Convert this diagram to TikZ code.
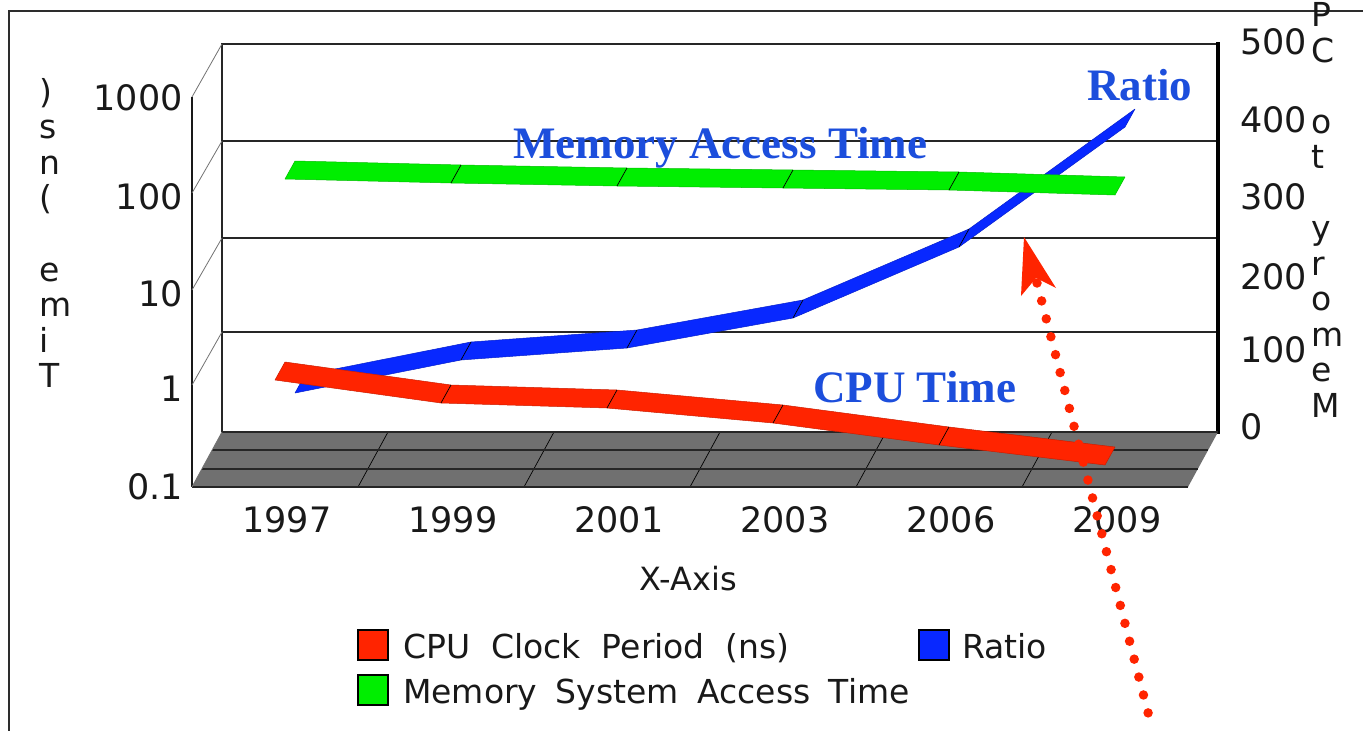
\documentclass[tikz,border=0pt]{standalone}
\usepackage{fontspec}
\setmainfont{DejaVu Sans}
\newfontfamily\tagfont{Liberation Serif}
\usetikzlibrary{calc}

\definecolor{cpured}{RGB}{255,36,0}
\definecolor{ratioblue}{RGB}{8,40,255}
\definecolor{memgreen}{RGB}{0,238,0}
\definecolor{floorgray}{RGB}{112,112,112}
\definecolor{tagblue}{RGB}{28,78,220}
\definecolor{framegray}{RGB}{45,45,45}

% One 3D series band: colour, x of the first front point, six front y values.
% The band is one third of the chart depth deep: offset (10,-18).
\newcommand\seriesband[8]{%
  \fill[#1, draw=#1!80!black, line width=0.5pt, line join=round]
    (#2,#3) -- (#2+166,#4) -- (#2+332,#5) -- (#2+498,#6) -- (#2+664,#7) -- (#2+830,#8)
    -- (#2+840,#8-18) -- (#2+674,#7-18) -- (#2+508,#6-18) -- (#2+342,#5-18)
    -- (#2+176,#4-18) -- (#2+10,#3-18) -- cycle;
  \draw[bandsep] (#2+166,#4) -- ++(10,-18);
  \draw[bandsep] (#2+332,#5) -- ++(10,-18);
  \draw[bandsep] (#2+498,#6) -- ++(10,-18);
  \draw[bandsep] (#2+664,#7) -- ++(10,-18);
}

\begin{document}
\begin{tikzpicture}[x=1pt,y=-1pt,
  tick/.style={inner sep=0pt, text=black!90, font=\fontsize{35}{40}\selectfont},
  axisletter/.style={inner sep=0pt, anchor=base west, text=black!90, font=\fontsize{33}{36}\selectfont},
  legendtext/.style={inner sep=0pt, anchor=base west, text=black!90, font=\fontsize{33}{36}\selectfont},
  tag/.style={inner sep=0pt, anchor=base west, text=tagblue, font=\tagfont\bfseries\fontsize{45}{50}\selectfont},
  gridline/.style={draw=black!85, line width=2pt},
  depthline/.style={draw=black!55, line width=0.8pt},
  bandsep/.style={draw=black, line width=0.7pt},
  legendkey/.style={draw=black, line width=1.8pt, minimum size=30pt, inner sep=0pt},
]

\useasboundingbox (0,0) rectangle (1363,731);
\clip (0,0) rectangle (1363,731);
\fill[white] (0,0) rectangle (1363,731);

% outer frame
\draw[framegray, line width=2pt] (9,731) -- (9,11) -- (1363,11);

% back wall with gridlines
\draw[gridline] (222,432) -- (222,44) -- (1218,44);
\foreach \y in {141,238,332} \draw[gridline] (222,\y) -- (1218,\y);
\draw[black, line width=3.2pt] (1218,42) -- (1218,434);

% left wall
\draw[black!90, line width=2pt] (192,97) -- (192,487);
\foreach \f/\b in {97/44,193/141,290/238,385/332} \draw[depthline] (192,\f) -- (222,\b);

% floor
\fill[floorgray] (192,487) -- (1188,487) -- (1218,432) -- (222,432) -- cycle;
\foreach \k in {1,...,5} \draw[bandsep] (192+166*\k,487) -- (222+166*\k,432);
\draw[gridline] (222,432) -- (1218,432);
\draw[gridline] (212,450.3) -- (1208,450.3);
\draw[gridline] (202,468.7) -- (1198,468.7);
\draw[gridline] (192,487) -- (1188,487);
\draw[depthline] (192,487) -- (222,432);

% series, back to front
\seriesband{ratioblue}{295}{393}{360}{348}{318}{247}{127}
\seriesband{memgreen}{285}{179}{183}{186}{188}{190}{195}
\seriesband{cpured}{275}{380}{403}{408}{423}{445}{465}

% series captions
\node[tag] (memtag) at (513,158) {Memory Access Time};
\node[tag] (ratiotag) at (1087,100) {Ratio};
\node[tag] (cputag) at (813,402) {CPU Time};

% left axis
\node[tick, anchor=east] (l1000) at (183,98) {1000};
\node[tick, anchor=east] (l100) at (183,197) {100};
\node[tick, anchor=east] (l10) at (183,294) {10};
\node[tick, anchor=east] (l1) at (183,389) {1};
\node[tick, anchor=east] (l01) at (183,487) {0.1};

% left axis title, one letter per row
\node[axisletter] (lt0) at (39,103) {)};
\node[axisletter] (lt1) at (39,138.6) {s};
\node[axisletter] (lt2) at (39,174.2) {n};
\node[axisletter] (lt3) at (39,209.8) {(};
\node[axisletter] (lt5) at (39,281) {e};
\node[axisletter] (lt6) at (39,316.6) {m};
\node[axisletter] (lt7) at (39,352.2) {i};
\node[axisletter] (lt8) at (39,387.8) {T};

% right axis
\node[tick, anchor=west] (r0) at (1240,427) {0};
\node[tick, anchor=west] (r100) at (1240,350) {100};
\node[tick, anchor=west] (r200) at (1240,277) {200};
\node[tick, anchor=west] (r300) at (1240,197) {300};
\node[tick, anchor=west] (r400) at (1240,120) {400};
\node[tick, anchor=west] (r500) at (1240,42) {500};

% right axis title, read upwards
\node[axisletter] (rt0) at (1311,417) {M};
\node[axisletter] (rt1) at (1311,381.5) {e};
\node[axisletter] (rt2) at (1311,346) {m};
\node[axisletter] (rt3) at (1311,310.5) {o};
\node[axisletter] (rt4) at (1311,275) {r};
\node[axisletter] (rt5) at (1311,239.5) {y};
\node[axisletter] (rt7) at (1311,168.5) {t};
\node[axisletter] (rt8) at (1311,133) {o};
\node[axisletter] (rt10) at (1311,62) {C};
\node[axisletter] (rt11) at (1311,26.5) {P};

% categories
\node[tick, anchor=base] (y1997) at (287,532) {1997};
\node[tick, anchor=base] (y1999) at (453,532) {1999};
\node[tick, anchor=base] (y2001) at (619,532) {2001};
\node[tick, anchor=base] (y2003) at (785,532) {2003};
\node[tick, anchor=base] (y2006) at (951,532) {2006};
\node[tick, anchor=base] (y2009) at (1117,532) {2009};
\node[legendtext, anchor=base, font=\fontsize{32}{36}\selectfont] (xaxis) at (688,590) {X-Axis};

% legend
\node[legendkey, fill=cpured, anchor=north west] (kcpu) at (357,629) {};
\node[legendtext] (tcpu) at (403,658) {CPU\hspace{21pt}Clock\hspace{21pt}Period\hspace{21pt}(ns)};
\node[legendkey, fill=ratioblue, anchor=north west] (kratio) at (918,629) {};
\node[legendtext] (tratio) at (962,658) {Ratio};
\node[legendkey, fill=memgreen, anchor=north west] (kmem) at (357,674) {};
\node[legendtext] (tmem) at (403,703) {Memory\hspace{18.5pt}System\hspace{18.5pt}Access\hspace{18.5pt}Time};

% dotted pointer to the ratio curve
\coordinate (cuenotch) at (1037,283);
\coordinate (cuefoot) at (1152,728);
\draw[cpured, line width=9.5pt, line cap=round, dash pattern=on 0pt off 18.5pt] (cuenotch) -- (cuefoot);
\fill[cpured] (1024,237) -- (1056,288) -- (1036,278) -- (1021,296) -- cycle;

\end{tikzpicture}
\end{document}
